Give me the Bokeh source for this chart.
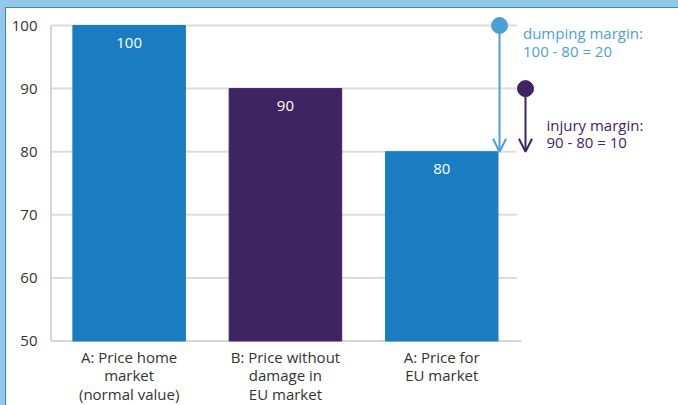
from bokeh.plotting import figure
from bokeh.models import ColumnDataSource, FixedTicker, Arrow, OpenHead
from bokeh.core.properties import value
from bokeh.embed import file_html
from bokeh.resources import INLINE

# ---- data ----
categories = ["A: Price home\nmarket\n(normal value)",
              "B: Price without\ndamage in\nEU market",
              "A: Price for\nEU market"]
prices = [100, 90, 80]
bar_colors = ["#1a7dc2", "#3e2463", "#1a7dc2"]
y_ticks = [50, 60, 70, 80, 90, 100]
home_price = 100
undamaged_price = 90
eu_price = 80
dumping_text = "dumping margin:\n100 - 80 = 20"
injury_text = "injury margin:\n90 - 80 = 10"

FONT = "Open Sans"
BLUE_LIGHT = "#4c9fd7"
PURPLE = "#3e2463"
TEXT = "#333333"

xs = [i + 0.5 for i in range(len(prices))]
src = ColumnDataSource(dict(x=xs, top=prices, color=bar_colors,
                            lbl=[str(v) for v in prices],
                            lbl_y=[v - 2.8 for v in prices],
                            cat=categories))

p = figure(width=678, height=405, output_backend="svg", toolbar_location=None,
           x_range=(-0.0096, 4.015), y_range=(39.78, 101.43),
           min_border_left=49, min_border_right=0, min_border_top=16,
           min_border_bottom=0, outline_line_color=None,
           background_fill_color="white", border_fill_color=None,
           styles={"background-color": "white",
                   "box-shadow": "inset 5px 7px 0 0 #93c8e6, inset 6px 8px 0 0 #2a8bd0"})
p.xaxis.visible = False
p.xgrid.visible = False
p.ygrid.visible = False

yax = p.yaxis[0]
yax.ticker = FixedTicker(ticks=y_ticks)
yax.axis_line_color = None
yax.major_tick_line_color = None
yax.minor_tick_line_color = None
yax.major_label_standoff = 6
yax.major_label_text_font = FONT
yax.major_label_text_font_size = "15px"
yax.major_label_text_color = TEXT

# grid lines and axis lines drawn within the bar region
n = len(prices)
grid_y = [t for t in y_ticks if t > y_ticks[0]]
p.segment(x0=[0] * len(grid_y), x1=[n - 0.02] * len(grid_y), y0=grid_y, y1=grid_y,
          line_color="#dcdcdc", line_width=2)
p.segment(x0=[0], x1=[n + 0.01], y0=[y_ticks[0]], y1=[y_ticks[0]],
          line_color="#c8c8c8", line_width=1.5)
p.segment(x0=[0], x1=[0], y0=[y_ticks[0]], y1=[y_ticks[-1]],
          line_color="#c8c8c8", line_width=1.5)

p.vbar(x="x", top="top", bottom=y_ticks[0], width=0.72, color="color", source=src)

p.text(x="x", y="lbl_y", text="lbl", source=src, text_align="center",
       text_baseline="middle", text_color="white", text_font=value(FONT),
       text_font_size="15px")

p.text(x="x", y=y_ticks[0] - 0.87, text="cat", source=src, text_align="center",
       text_baseline="top", text_color=TEXT, text_font=value(FONT),
       text_font_size="15px", text_line_height=0.93)

# margins
dx, ix = 2.87, 3.036
p.add_layout(Arrow(end=OpenHead(size=13, line_color=BLUE_LIGHT, line_width=2),
                   x_start=dx, y_start=home_price, x_end=dx, y_end=eu_price,
                   line_color=BLUE_LIGHT, line_width=2))
p.add_layout(Arrow(end=OpenHead(size=13, line_color=PURPLE, line_width=2),
                   x_start=ix, y_start=undamaged_price, x_end=ix, y_end=eu_price,
                   line_color=PURPLE, line_width=2))
p.scatter(x=[dx], y=[home_price], size=16, color=BLUE_LIGHT)
p.scatter(x=[ix], y=[undamaged_price], size=16, color=PURPLE)

p.text(x=[3.02], y=[home_price - 2.6], text=[dumping_text], text_align="left",
       text_baseline="middle", text_color=BLUE_LIGHT, text_font=value(FONT),
       text_font_size="15px", text_line_height=0.86)
p.text(x=[3.17], y=[eu_price + 2.9], text=[injury_text], text_align="left",
       text_baseline="middle", text_color=PURPLE, text_font=value(FONT),
       text_font_size="15px", text_line_height=0.86)

open("out.html", "w").write(file_html(p, INLINE))
